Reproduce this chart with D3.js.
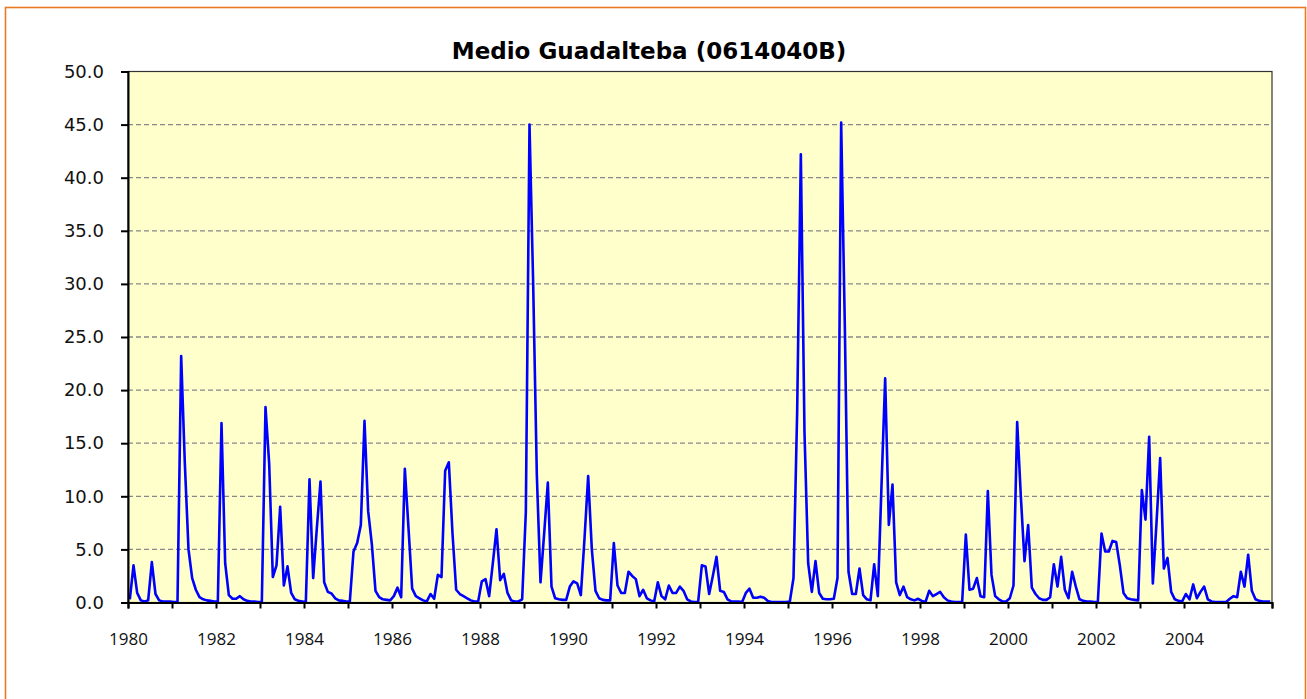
<!DOCTYPE html>
<html lang="es">
	<head>
		<meta charset="utf-8">
		<title>Medio Guadalteba (0614040B)</title>
		<style>
		body {
			margin:0;
			background:#fff;
		}
		svg#chart {
			display:block;
		}
		.grid line {
			stroke: #888;
			stroke-width: 1.3px;
			stroke-dasharray: 5,3;
		}
		.axis path, .axis line {
			stroke: #000;
			stroke-width: 2px;
		}
		.y-axis text {
			font-family: "DejaVu Sans", Verdana, sans-serif;
			font-size: 18px;
			fill: #111;
		}
		.x-axis text {
			font-family: "Open Sans", Tahoma, sans-serif;
			font-size: 17px;
			fill: #111;
		}
		.title {
			font-family: "DejaVu Sans", Verdana, sans-serif;
			font-weight: bold;
			font-size: 23px;
			fill: #000;
		}
		</style>
	</head>
	<body>
		<svg id="chart" width="1307" height="699"></svg>
		<script src="https://cdnjs.cloudflare.com/ajax/libs/d3/7.8.5/d3.min.js"></script>
		<script>

		var startYear = 1980;
		var yTicks = [0, 5, 10, 15, 20, 25, 30, 35, 40, 45, 50];
		var yearLabels = [1980, 1982, 1984, 1986, 1988, 1990, 1992, 1994, 1996, 1998, 2000, 2002, 2004];

		// monthly values, one row per year (12 months)
		var y1980 = [0.3, 3.5, 0.9, 0.2, 0.1, 0.2, 3.8, 0.8, 0.2, 0.1, 0.1, 0.1];
		var y1981 = [0.05, 0.05, 23.2, 13.1, 5.0, 2.3, 1.2, 0.5, 0.3, 0.2, 0.15, 0.1];
		var y1982 = [0.1, 16.9, 3.7, 0.7, 0.35, 0.35, 0.6, 0.3, 0.15, 0.1, 0.1, 0.05];
		var y1983 = [0.05, 18.4, 13.1, 2.4, 3.5, 9.0, 1.6, 3.4, 0.9, 0.3, 0.15, 0.1];
		var y1984 = [0.05, 11.6, 2.3, 7.0, 11.4, 1.9, 1.0, 0.85, 0.4, 0.2, 0.15, 0.1];
		var y1985 = [0.1, 4.8, 5.6, 7.3, 17.1, 8.6, 5.5, 1.1, 0.5, 0.3, 0.25, 0.2];
		var y1986 = [0.6, 1.4, 0.5, 12.6, 7.0, 1.3, 0.6, 0.4, 0.2, 0.1, 0.8, 0.35];
		var y1987 = [2.6, 2.4, 12.4, 13.2, 6.5, 1.2, 0.8, 0.6, 0.4, 0.2, 0.1, 0.1];
		var y1988 = [2.0, 2.2, 0.6, 3.7, 6.9, 2.1, 2.7, 0.9, 0.2, 0.1, 0.1, 0.3];
		var y1989 = [8.5, 45.0, 30.0, 12.0, 1.9, 6.5, 11.3, 1.5, 0.4, 0.3, 0.25, 0.25];
		var y1990 = [1.5, 2.0, 1.8, 0.7, 6.0, 11.9, 5.0, 1.1, 0.4, 0.25, 0.2, 0.2];
		var y1991 = [5.6, 1.6, 0.9, 0.9, 2.9, 2.5, 2.2, 0.6, 1.2, 0.4, 0.2, 0.1];
		var y1992 = [1.9, 0.6, 0.3, 1.6, 0.9, 0.9, 1.5, 1.1, 0.3, 0.1, 0.05, 0.05];
		var y1993 = [3.5, 3.4, 0.8, 2.5, 4.3, 1.1, 1.0, 0.3, 0.1, 0.1, 0.1, 0.05];
		var y1994 = [0.9, 1.3, 0.45, 0.45, 0.55, 0.45, 0.15, 0.05, 0.05, 0.05, 0.05, 0.05];
		var y1995 = [0.1, 2.3, 18.0, 42.2, 16.0, 3.7, 1.0, 3.9, 0.9, 0.35, 0.3, 0.3];
		var y1996 = [0.35, 2.3, 45.2, 26.0, 2.9, 0.8, 0.8, 3.2, 0.7, 0.3, 0.2, 3.6];
		var y1997 = [0.6, 11.0, 21.1, 7.3, 11.1, 1.9, 0.7, 1.5, 0.5, 0.3, 0.2, 0.35];
		var y1998 = [0.15, 0.05, 1.1, 0.6, 0.8, 1.0, 0.5, 0.2, 0.1, 0.05, 0.05, 0.05];
		var y1999 = [6.4, 1.2, 1.3, 2.3, 0.6, 0.5, 10.5, 2.6, 0.6, 0.3, 0.1, 0.1];
		var y2000 = [0.4, 1.6, 17.0, 10.0, 3.9, 7.3, 1.4, 0.8, 0.4, 0.25, 0.25, 0.5];
		var y2001 = [3.6, 1.5, 4.3, 1.2, 0.4, 2.9, 1.5, 0.3, 0.15, 0.1, 0.1, 0.05];
		var y2002 = [0.05, 6.5, 4.8, 4.8, 5.8, 5.7, 3.5, 0.9, 0.4, 0.3, 0.25, 0.2];
		var y2003 = [10.6, 7.8, 15.6, 1.8, 7.5, 13.6, 3.2, 4.2, 1.0, 0.3, 0.15, 0.1];
		var y2004 = [0.8, 0.3, 1.7, 0.4, 1.0, 1.5, 0.3, 0.1, 0.05, 0.05, 0.05, 0.05];
		var y2005 = [0.35, 0.6, 0.5, 2.9, 1.5, 4.5, 1.1, 0.3, 0.15, 0.1, 0.1, 0.1];

		var values = [].concat(y1980, y1981, y1982, y1983, y1984, y1985, y1986, y1987,
			y1988, y1989, y1990, y1991, y1992, y1993, y1994, y1995, y1996, y1997,
			y1998, y1999, y2000, y2001, y2002, y2003, y2004, y2005);

		var svg = d3.select("#chart"),
			margin = {left: 128, top: 71.5, right: 35, bottom: 96.5},
			width = +svg.attr("width") - margin.left - margin.right,
			height = +svg.attr("height") - margin.top - margin.bottom,
			nMonths = values.length;

		// outer chart frame
		svg.append("rect")
			.attr("x", 5.5)
			.attr("y", 7.5)
			.attr("width", 1300)
			.attr("height", 720)
			.attr("fill", "#fff")
			.attr("stroke", "#EC7A23")
			.attr("stroke-width", 1.6);

		svg.append("text")
			.attr("class", "title")
			.attr("x", 649)
			.attr("y", 59)
			.attr("text-anchor", "middle")
			.text("Medio Guadalteba (0614040B)");

		var g = svg.append("g")
			.attr("transform", "translate(" + margin.left + "," + margin.top + ")");

		// months on a continuous scale, points sit in the middle of each month
		var x = d3.scaleLinear().domain([0, nMonths]).range([0, width]);
		var y = d3.scaleLinear().domain([0, 50]).range([height, 0]);

		g.append("rect")
			.attr("width", width)
			.attr("height", height)
			.attr("fill", "#FFFFCC")
			.attr("stroke", "#333")
			.attr("stroke-width", 1.2);

		g.append("g")
			.attr("class", "grid")
			.selectAll("line")
			.data(yTicks.filter(function(d) { return d > 0 && d < 50; }))
			.enter().append("line")
			.attr("x1", 0)
			.attr("x2", width)
			.attr("y1", function(d) { return y(d); })
			.attr("y2", function(d) { return y(d); });

		var line = d3.line()
			.x(function(d, i) { return x(i + 0.5); })
			.y(function(d) { return y(d); });

		g.append("path")
			.datum(values)
			.attr("fill", "none")
			.attr("stroke", "#0000FF")
			.attr("stroke-width", 2.6)
			.attr("stroke-linejoin", "round")
			.attr("d", line);

		// y axis
		g.append("g")
			.attr("class", "axis y-axis")
			.call(d3.axisLeft(y)
				.tickValues(yTicks)
				.tickSize(7)
				.tickPadding(17)
				.tickFormat(d3.format(".1f")));

		// x axis: a tick every year, a label every second year
		var yearTicks = d3.range(0, nMonths + 1, 12);
		g.append("g")
			.attr("class", "axis x-axis")
			.attr("transform", "translate(0," + height + ")")
			.call(d3.axisBottom(x)
				.tickValues(yearTicks)
				.tickSize(6)
				.tickPadding(24)
				.tickFormat(function(d) {
					var yr = startYear + d / 12;
					return yearLabels.indexOf(yr) >= 0 ? yr : "";
				}));

		g.selectAll(".axis .domain").attr("stroke-width", 2.2);

		</script>
	</body>
</html>
